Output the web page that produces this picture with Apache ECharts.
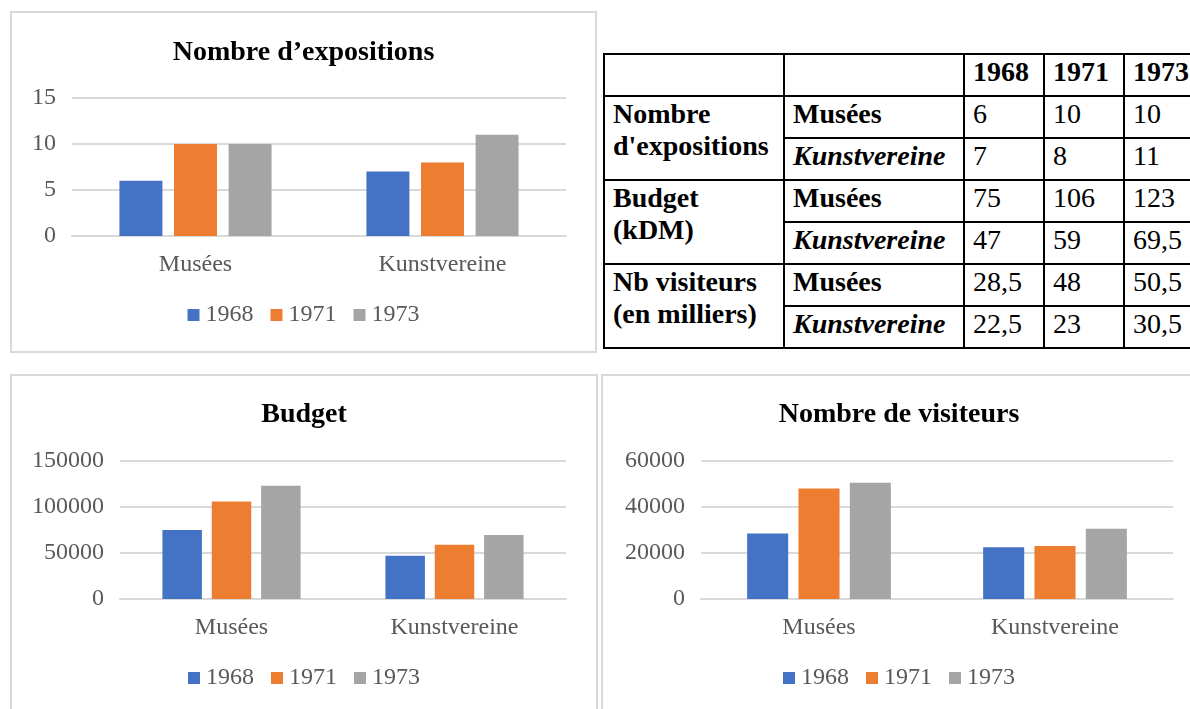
<!DOCTYPE html>
<html>
<head>
<meta charset="utf-8">
<script src="https://cdn.jsdelivr.net/npm/echarts@6/dist/echarts.min.js"></script>
<style>
  html, body { margin: 0; padding: 0; background: #fff; width: 1190px; height: 709px; overflow: hidden; }
  .panel { position: absolute; border: 2px solid #d9d9d9; box-sizing: border-box; }
  .chart { position: absolute; }
  #data-table {
    position: absolute; left: 603px; top: 53px; width: 630px;
    border-collapse: collapse; table-layout: fixed;
    font-family: "Liberation Serif", "Times New Roman", serif;
    font-size: 28px; color: #000;
  }
  #data-table td {
    font-family: "Liberation Serif", "Times New Roman", serif;
    border: 2px solid #000; padding: 1px 0 0 8px;
    vertical-align: top; line-height: 32px; height: 39px;
    white-space: nowrap; overflow: hidden;
  }
  #data-table .b { font-weight: bold; }
  #data-table .bi { font-weight: bold; font-style: italic; }
</style>
</head>
<body>
<div class="panel" style="left:10px;top:11px;width:587px;height:342px;"></div>
<div class="panel" style="left:10px;top:374px;width:588px;height:360px;"></div>
<div class="panel" style="left:601px;top:374px;width:620px;height:360px;"></div>

<div id="chart-expo" class="chart" style="left:10px;top:11px;width:587px;height:342px;"></div>
<div id="chart-budget" class="chart" style="left:10px;top:374px;width:588px;height:335px;"></div>
<div id="chart-visit" class="chart" style="left:601px;top:374px;width:596px;height:335px;"></div>

<table id="data-table"></table>

<script>
var years = ["1968", "1971", "1973"];
var categories = ["Musées", "Kunstvereine"];
var colors = ["#4472c4", "#ed7d31", "#a5a5a5"];

var expoMusees = [6, 10, 10];
var expoKunst = [7, 8, 11];
var budgetMusees = [75000, 106000, 123000];
var budgetKunst = [47000, 59000, 69500];
var visitMusees = [28500, 48000, 50500];
var visitKunst = [22500, 23000, 30500];

var serif = "Liberation Serif";

function renderBarChart(id, title, musees, kunst, max, interval, grid, barWidth, barGap) {
  var chartDom = document.getElementById(id);
  var myChart = echarts.init(chartDom);
  var option;

  var series = years.map(function (year, i) {
    return {
      name: year,
      type: "bar",
      barWidth: barWidth,
      barGap: barGap,
      itemStyle: { color: colors[i] },
      data: [musees[i], kunst[i]],
    };
  });

  option = {
    animation: false,
    textStyle: { fontFamily: serif },
    title: {
      text: title,
      left: "center",
      top: grid.titleTop,
      textStyle: { fontFamily: serif, fontSize: 28, fontWeight: "bold", color: "#000" },
    },
    legend: {
      data: years,
      bottom: grid.legendBottom,
      left: "center",
      icon: "rect",
      itemWidth: 12,
      itemHeight: 12,
      itemGap: 17,
      textStyle: { fontFamily: serif, fontSize: 24, color: "#595959", padding: [0, 0, 0, 1] },
    },
    grid: { left: grid.left, top: grid.top, width: grid.width, height: grid.height },
    xAxis: {
      type: "category",
      data: categories,
      axisLine: { lineStyle: { color: "#d9d9d9", width: 2 } },
      axisTick: { show: false },
      axisLabel: { fontFamily: serif, fontSize: 24, color: "#595959", margin: 17 },
    },
    yAxis: {
      type: "value",
      min: 0,
      max: max,
      interval: interval,
      axisLine: { show: false },
      axisTick: { show: false },
      splitLine: { lineStyle: { color: "#d9d9d9", width: 2 } },
      axisLabel: {
        fontFamily: serif,
        fontSize: 24,
        color: "#595959",
        margin: 16,
        formatter: function (v) {
          return String(v);
        },
      },
    },
    series: series,
  };

  option && myChart.setOption(option);
}

renderBarChart("chart-expo", "Nombre d\u2019expositions", expoMusees, expoKunst, 15, 5,
  { left: 62, top: 87, width: 494, height: 138, titleTop: 23, legendBottom: 21 }, "17.4%", "27%");
renderBarChart("chart-budget", "Budget", budgetMusees, budgetKunst, 150000, 50000,
  { left: 110, top: 87, width: 446, height: 138, titleTop: 22, legendBottom: 14 }, "17.7%", "25%");
renderBarChart("chart-visit", "Nombre de visiteurs", visitMusees, visitKunst, 60000, 20000,
  { left: 100, top: 87, width: 472, height: 138, titleTop: 22, legendBottom: 14 }, "17.4%", "25%");

// table of the raw values (budget and visitors in thousands)
function fmt(v) {
  return String(v).replace(".", ",");
}
function renderTable() {
  var rows = [
    ["Nombre<br>d'expositions", expoMusees, expoKunst, 1],
    ["Budget<br>(kDM)", budgetMusees, budgetKunst, 1000],
    ["Nb visiteurs<br>(en milliers)", visitMusees, visitKunst, 1000],
  ];
  var widths = [180, 180, 80, 80, 110];
  var html = "<colgroup>" + widths.map(function (w) { return '<col style="width:' + w + 'px">'; }).join("") + "</colgroup>";
  html += '<tr><td></td><td></td>' + years.map(function (y) { return '<td class="b">' + y + "</td>"; }).join("") + "</tr>";
  rows.forEach(function (r) {
    html += '<tr><td class="b" rowspan="2">' + r[0] + '</td><td class="b">' + categories[0] + "</td>" +
      r[1].map(function (v) { return "<td>" + fmt(v / r[3]) + "</td>"; }).join("") + "</tr>";
    html += '<tr><td class="bi">' + categories[1] + "</td>" +
      r[2].map(function (v) { return "<td>" + fmt(v / r[3]) + "</td>"; }).join("") + "</tr>";
  });
  document.getElementById("data-table").innerHTML = html;
}
renderTable();
</script>
</body>
</html>
